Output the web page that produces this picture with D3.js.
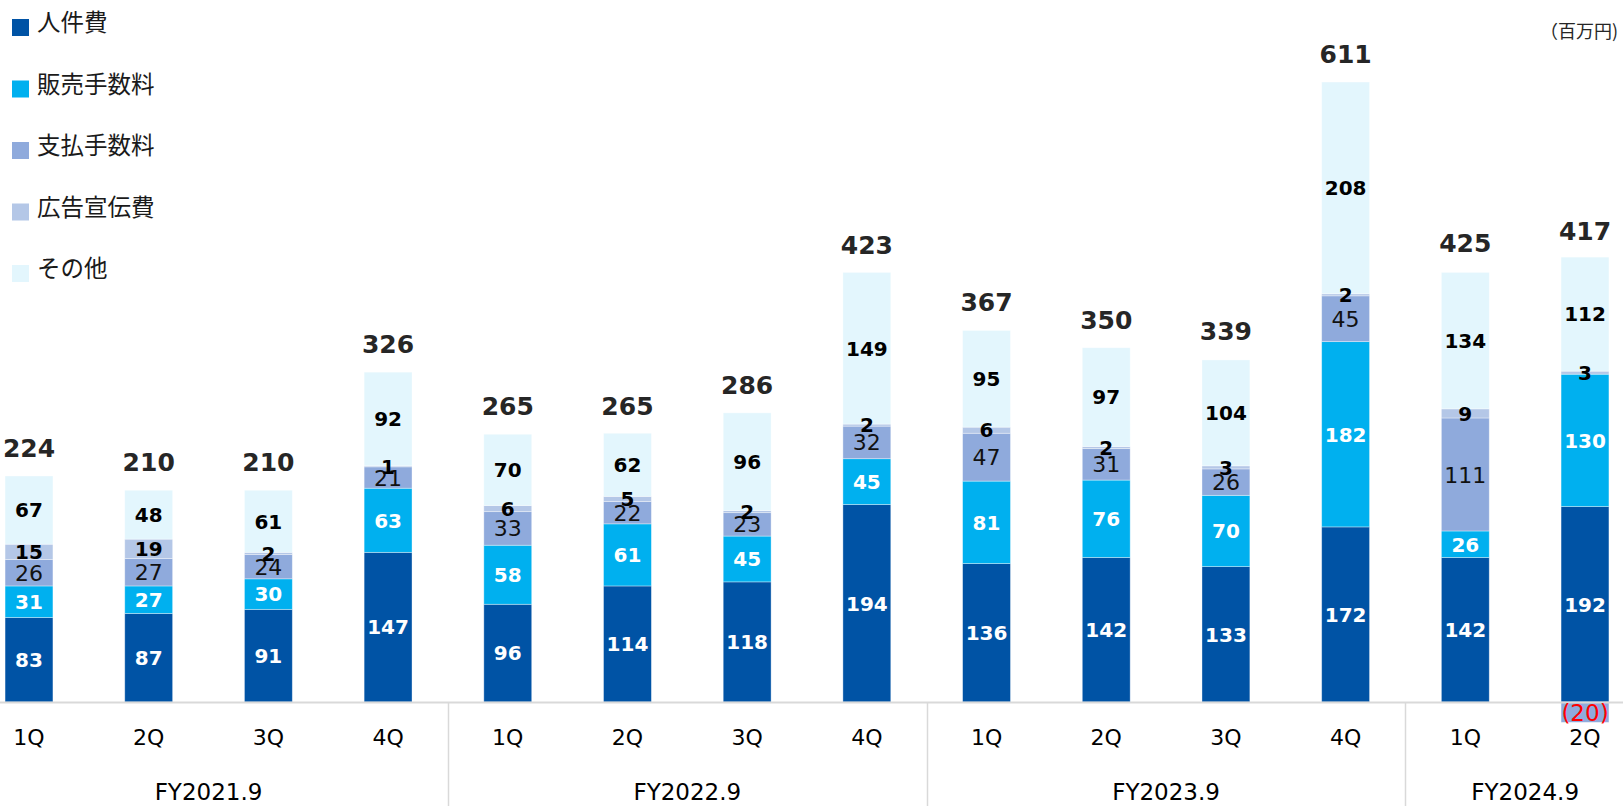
<!DOCTYPE html>
<html>
<head>
<meta charset="utf-8">
<script src="https://cdn.jsdelivr.net/npm/d3@7"></script>
<style>
  html, body { margin: 0; padding: 0; background: #fff; }
  svg { display: block; }
</style>
</head>
<body>
<svg id="chart" width="1623" height="806"></svg>
<script>
// Quarterly SG&A breakdown (百万円)
const quarters = ["1Q","2Q","3Q","4Q","1Q","2Q","3Q","4Q","1Q","2Q","3Q","4Q","1Q","2Q"];
const fiscalYears = ["FY2021.9","FY2021.9","FY2021.9","FY2021.9",
                     "FY2022.9","FY2022.9","FY2022.9","FY2022.9",
                     "FY2023.9","FY2023.9","FY2023.9","FY2023.9",
                     "FY2024.9","FY2024.9"];
const seriesNames = ["人件費","販売手数料","支払手数料","広告宣伝費","その他"];

const personnel   = [83, 87, 91, 147, 96, 114, 118, 194, 136, 142, 133, 172, 142, 192];
const salesFees   = [31, 27, 30, 63, 58, 61, 45, 45, 81, 76, 70, 182, 26, 130];
const paymentFees = [26, 27, 24, 21, 33, 22, 23, 32, 47, 31, 26, 45, 111, -20];
const advertising = [15, 19, 2, 1, 6, 5, 2, 2, 6, 2, 3, 2, 9, 3];
const other       = [67, 48, 61, 92, 70, 62, 96, 149, 95, 97, 104, 208, 134, 112];
const totals      = [224, 210, 210, 326, 265, 265, 286, 423, 367, 350, 339, 611, 425, 417];

const seriesValues = [personnel, salesFees, paymentFees, advertising, other];
const colors = ["#0053A5", "#00B0EF", "#8FAADC", "#B4C7E7", "#E3F6FD"];
const labelFill = ["#fff", "#fff", "#111", "#000", "#000"];
const labelWeight = ["bold", "bold", "normal", "bold", "bold"];
const labelSize = [20, 20, 22, 20, 20];

const FONT = "'DejaVu Sans', Verdana, sans-serif";
const CJK = "'Noto Sans CJK JP', 'Noto Sans', sans-serif";

const rows = quarters.map((q, i) => {
  const r = { idx: i };
  seriesNames.forEach((s, k) => { r[s] = seriesValues[k][i]; });
  return r;
});

const svg = d3.select("#chart");
const W = 1623, H = 806;
const baseY = 702;

const x = d3.scaleBand()
  .domain(d3.range(quarters.length))
  .range([-30.85, 1644.85])
  .paddingInner(0.6)
  .paddingOuter(0.3);

const y = d3.scaleLinear().domain([0, 600]).range([baseY, baseY - 610.8]);

const stacked = d3.stack()
  .keys(seriesNames)
  .offset(d3.stackOffsetDiverging)(rows);

// bars
const layers = svg.append("g").selectAll("g")
  .data(stacked)
  .join("g")
  .attr("fill", (d, k) => colors[k]);

layers.selectAll("rect")
  .data(d => d)
  .join("rect")
  .attr("x", d => x(d.data.idx))
  .attr("width", x.bandwidth())
  .attr("y", d => y(Math.max(d[0], d[1])))
  .attr("height", d => Math.abs(y(d[0]) - y(d[1])))
  .attr("stroke", "#ffffff")
  .attr("stroke-opacity", 0.45)
  .attr("stroke-width", 0.8);

// baseline and group separators
svg.append("line")
  .attr("x1", 0).attr("x2", W)
  .attr("y1", baseY + 0.5).attr("y2", baseY + 0.5)
  .attr("stroke", "#D9D9D9").attr("stroke-width", 2);

const groups = Array.from(new Set(fiscalYears));
const groupIdx = groups.map(g => fiscalYears.map((f, i) => f === g ? i : -1).filter(i => i >= 0));
const center = i => x(i) + x.bandwidth() / 2;

groupIdx.slice(0, -1).forEach((idxs, gi) => {
  const last = idxs[idxs.length - 1];
  const next = groupIdx[gi + 1][0];
  const sx = Math.round((center(last) + center(next)) / 2) + 0.5;
  svg.append("line")
    .attr("x1", sx).attr("x2", sx)
    .attr("y1", baseY).attr("y2", H)
    .attr("stroke", "#D9D9D9").attr("stroke-width", 1.5);
});

// quarter axis
const axis = d3.axisBottom(x)
  .tickSize(0)
  .tickPadding(27.4)
  .tickFormat(i => quarters[i]);

const axisG = svg.append("g")
  .attr("transform", `translate(0,${baseY})`)
  .call(axis);
axisG.select(".domain").remove();
axisG.selectAll("text")
  .attr("font-family", FONT)
  .attr("font-size", 22)
  .attr("fill", "#000");

// fiscal year labels
svg.append("g").selectAll("text")
  .data(groupIdx)
  .join("text")
  .attr("x", (d, gi) => (center(d[0]) + center(d[d.length - 1])) / 2)
  .attr("y", 800)
  .attr("text-anchor", "middle")
  .attr("font-family", FONT)
  .attr("font-size", 23)
  .attr("fill", "#000")
  .text((d, gi) => groups[gi]);

// segment value labels (negative values shown in red parentheses)
stacked.forEach((layer, k) => {
  svg.append("g").selectAll("text")
    .data(layer)
    .join("text")
    .each(function (d) {
      const v = d.data[seriesNames[k]];
      const size = v < 0 ? 23 : labelSize[k];
      d3.select(this)
        .attr("x", center(d.data.idx))
        .attr("y", (y(d[0]) + y(d[1])) / 2 + 0.365 * size)
        .attr("text-anchor", "middle")
        .attr("font-family", FONT)
        .attr("font-size", size)
        .attr("font-weight", v < 0 ? "normal" : labelWeight[k])
        .attr("fill", v < 0 ? "#FF0000" : labelFill[k])
        .text(v < 0 ? `(${Math.abs(v)})` : v);
    });
});

// totals above each bar
const positiveTop = rows.map(r => d3.sum(seriesNames, s => Math.max(0, r[s])));
svg.append("g").selectAll("text")
  .data(totals)
  .join("text")
  .attr("x", (d, i) => center(i))
  .attr("y", (d, i) => y(Math.max(d, positiveTop[i])) - 17)
  .attr("text-anchor", "middle")
  .attr("font-family", FONT)
  .attr("font-size", 25)
  .attr("font-weight", "bold")
  .attr("fill", "#262626")
  .text(d => d);

// legend
const legend = svg.append("g").selectAll("g")
  .data(seriesNames)
  .join("g")
  .attr("transform", (d, k) => `translate(12,${19 + k * 61.5})`);
legend.append("rect")
  .attr("width", 17).attr("height", 17)
  .attr("fill", (d, k) => colors[k]);
legend.append("text")
  .attr("x", 25)
  .attr("y", 12)
  .attr("font-family", CJK)
  .attr("font-size", 23.5)
  .attr("fill", "#1a1a1a")
  .text(d => d);

// unit note
svg.append("text")
  .attr("x", 1540)
  .attr("y", 38)
  .attr("font-family", CJK)
  .attr("font-size", 18)
  .attr("fill", "#262626")
  .text("（百万円)");
</script>
</body>
</html>
